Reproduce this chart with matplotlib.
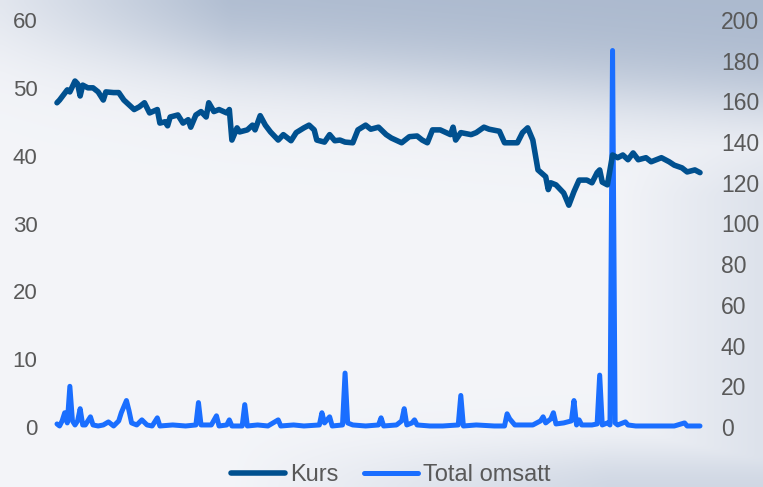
import numpy as np
import matplotlib
matplotlib.use("Agg")
import matplotlib.pyplot as plt

# Kurs (left axis), trading day index -> price
kurs_dag = [0, 1, 2, 4, 5, 7, 8, 9, 10, 12, 14, 16, 18, 19, 22, 24, 26, 30, 32, 34,
            36, 39, 40, 42, 43, 44, 47, 49, 51, 52, 54, 56, 58, 59, 61, 63, 66, 67, 68, 70,
            71, 74, 76, 77, 79, 81, 83, 86, 88, 91, 93, 96, 98, 100, 101, 104, 106, 108, 110, 112,
            115, 117, 120, 122, 125, 128, 130, 134, 137, 140, 142, 144, 146, 149, 153, 154, 155, 157, 161, 163,
            166, 168, 172, 174, 177, 179, 181, 183, 185, 187, 190, 191, 192, 194, 197, 199, 201, 203, 206, 208,
            210, 211, 212, 214, 216, 218, 220, 222, 224, 226, 229, 231, 233, 235, 238, 240, 243, 245, 248, 250]
kurs = [47.8, 48.2, 48.7, 49.7, 49.4, 51.0, 50.6, 48.8, 50.4, 50.0, 50.0, 49.4, 48.2, 49.4, 49.3, 49.3, 48.2, 46.8, 47.2, 47.8,
        46.3, 46.8, 44.8, 45.0, 44.4, 45.7, 46.0, 44.8, 45.3, 44.2, 46.0, 46.5, 45.7, 47.8, 46.5, 46.8, 46.3, 46.8, 42.3, 44.1,
        43.5, 43.8, 44.5, 43.8, 45.9, 44.5, 43.5, 42.3, 43.1, 42.2, 43.4, 44.1, 44.5, 43.8, 42.3, 42.0, 43.1, 42.2, 42.3, 42.0,
        41.9, 43.8, 44.5, 43.9, 44.2, 43.1, 42.6, 41.9, 42.8, 42.9, 42.3, 41.9, 43.8, 43.8, 43.1, 44.2, 42.3, 43.4, 43.1, 43.4,
        44.2, 43.9, 43.6, 41.9, 41.9, 41.9, 43.4, 44.1, 42.3, 37.9, 36.9, 35.0, 36.0, 35.7, 34.5, 32.7, 34.7, 36.4, 36.4, 36.0,
        37.5, 37.9, 36.1, 35.7, 40.1, 39.7, 40.1, 39.4, 40.4, 39.4, 39.7, 39.1, 39.4, 39.7, 39.1, 38.6, 38.2, 37.6, 37.9, 37.5]

# Total omsatt (right axis), trading day index -> value
oms_dag = [0, 1, 2, 3, 4, 5, 6, 7, 8, 9, 10, 11, 13, 14, 16, 18, 20, 22, 24, 25,
           27, 28, 29, 31, 33, 35, 37, 39, 40, 45, 50, 54, 55, 56, 60, 62, 63, 66, 67, 68,
           72, 73, 74, 78, 82, 86, 87, 92, 96, 102, 103, 104, 106, 107, 111, 112, 113, 115, 120, 125,
           126, 127, 132, 134, 135, 136, 138, 139, 140, 145, 150, 156, 157, 158, 163, 170, 174, 175, 176, 178,
           185, 188, 189, 190, 192, 193, 194, 197, 200, 201, 202, 203, 204, 208, 210, 211, 212, 214, 215, 216,
           217, 218, 221, 222, 225, 235, 240, 244, 245, 250]
omsatt = [1.5, 0.5, 3, 7, 2, 20, 3, 1, 3, 9, 1, 1, 5, 1, 0.5, 1, 2.5, 0.5, 3, 7,
          13, 8, 2, 1, 3.5, 1, 0.5, 4.5, 0.5, 1, 0.5, 1, 12, 1, 1, 5.5, 0.5, 1, 3.5, 0.5,
          0.5, 11, 0.5, 1, 0.5, 3.5, 0.5, 1, 0.5, 1, 7, 2, 5, 0.5, 1, 26.5, 2, 1, 0.5, 1,
          4.5, 0.5, 1, 3, 9, 1, 2, 3.5, 1, 0.5, 0.5, 1, 15.5, 0.5, 1, 0.5, 0.5, 6.5, 4, 1,
          1, 3, 5, 2, 4, 7, 1.5, 2, 3, 13, 1, 3.5, 1, 1, 1.5, 25.5, 1, 2, 1, 185,
          2, 1, 2.5, 1, 0.5, 0.5, 0.5, 2, 0.5, 0.5]

venstre_ticks = [0, 10, 20, 30, 40, 50, 60]
hoyre_ticks = [0, 20, 40, 60, 80, 100, 120, 140, 160, 180, 200]

plt.rcParams['font.family'] = ['Liberation Sans', 'DejaVu Sans']

fig = plt.figure(figsize=(7.63, 4.87), dpi=100)

# bakgrunn: lys himmel med graa skyer
bg_ax = fig.add_axes([0, 0, 1, 1], zorder=0)
bg_ax.axis("off")
yy, xx = np.mgrid[0:1:120j, 0:1:190j]
b = 0.08 + 0.13 * xx
w_top = 1 / (1 + np.exp((yy - b) / 0.05)) * np.clip((xx + 0.12) / 0.42, 0, 1) * 0.9
w_bot = 1 / (1 + np.exp(-(yy - 0.94) / 0.03)) * np.clip((xx - 0.3) / 0.5, 0, 1) * 0.5
w_right = np.clip((xx - 0.8) / 0.2, 0, 1) * 0.28 * np.clip((yy - 0.2) / 0.2, 0, 1)
w = np.maximum(np.maximum(w_top, w_bot), w_right)
white = np.array([0.955, 0.96, 0.975])
grey = np.array([0.64, 0.70, 0.79])
img = white[None, None, :] * (1 - w[..., None]) + grey[None, None, :] * w[..., None]
bg_ax.imshow(img, aspect="auto", extent=[0, 1, 0, 1], interpolation="bicubic")
bg_ax.set_xlim(0, 1)
bg_ax.set_ylim(0, 1)

ax = fig.add_axes([57 / 763, 60 / 487, 643 / 763, 407 / 487], zorder=1)
ax.patch.set_alpha(0)
ax2 = ax.twinx()

l1, = ax.plot(kurs_dag, kurs, color="#00508F", lw=4, solid_joinstyle="round",
              solid_capstyle="round", clip_on=False, label="Kurs", zorder=3)
l2, = ax2.plot(oms_dag, omsatt, color="#1A6EFF", lw=3.6, solid_joinstyle="round",
               solid_capstyle="round", clip_on=False, label="Total omsatt")

ax.set_xlim(0, 250)
ax.set_ylim(0, 60)
ax2.set_ylim(0, 200)
ax.set_yticks(venstre_ticks)
ax2.set_yticks(hoyre_ticks)
ax.set_xticks([])

for a in (ax, ax2):
    for s in a.spines.values():
        s.set_visible(False)
ax.tick_params(axis="y", length=0, pad=14, labelsize=16, labelcolor="#595959")
ax2.tick_params(axis="y", length=0, pad=15, labelsize=16.5, labelcolor="#595959")

# Kurs line above omsatt
ax.set_zorder(2)
ax2.set_zorder(1)

fig.legend([l1, l2], ["Kurs", "Total omsatt"], loc="center", bbox_to_anchor=(0.512, 12 / 487),
           ncol=2, frameon=False, fontsize=17, labelcolor="#595959", handlelength=2.3,
           handletextpad=0.2, columnspacing=1.1, borderaxespad=0, borderpad=0)

fig.savefig("out.png", dpi=100)
